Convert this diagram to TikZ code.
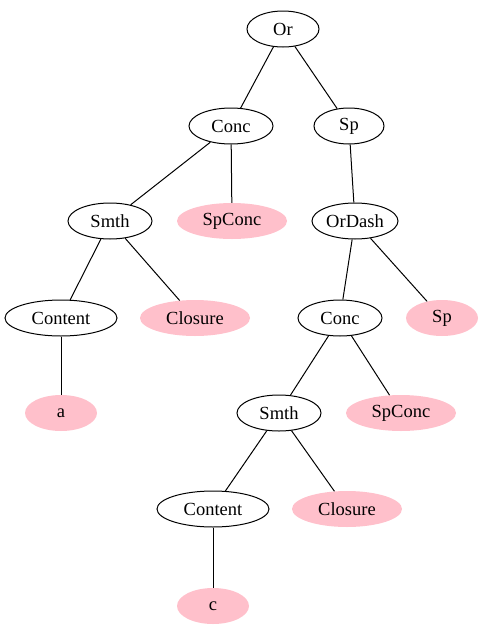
\documentclass[tikz,border=0pt]{standalone}
\usepackage{fontspec}
\setmainfont{Liberation Serif}
\usetikzlibrary{shapes.geometric}
\definecolor{gvpink}{HTML}{FFC0CB}
\tikzset{
  tn/.style={ellipse, draw=black, line width=1pt, inner sep=0pt, minimum height=36pt, font=\fontsize{18.5}{20}\selectfont},
  pk/.style={ellipse, fill=gvpink, draw=none, inner sep=0pt, minimum height=36pt, font=\fontsize{18.5}{20}\selectfont},
  ed/.style={line width=1pt, black}
}
\begin{document}
\begin{tikzpicture}[x=1pt,y=-1pt]
\useasboundingbox (0,0) rectangle (484,635);
\node[tn, minimum width=72pt] (or) at (283,29) {Or};
\node[tn, minimum width=84pt] (conc1) at (231,126) {Conc};
\node[tn, minimum width=70pt] (sp1) at (349,126) {Sp};
\node[tn, minimum width=84pt] (smth1) at (110,221) {Smth};
\node[pk, minimum width=110pt] (spconc1) at (232,221) {SpConc};
\node[tn, minimum width=86pt] (ordash) at (355,221) {OrDash};
\node[tn, minimum width=112pt] (content1) at (61,318) {Content};
\node[pk, minimum width=110pt] (closure1) at (195,318) {Closure};
\node[tn, minimum width=84pt] (conc2) at (340,318) {Conc};
\node[pk, minimum width=72pt] (sp2) at (442,318) {Sp};
\node[pk, minimum width=72pt] (a) at (61,413) {a};
\node[tn, minimum width=84pt] (smth2) at (279,413) {Smth};
\node[pk, minimum width=110pt] (spconc2) at (401,413) {SpConc};
\node[tn, minimum width=112pt] (content2) at (213,509) {Content};
\node[pk, minimum width=110pt] (closure2) at (347,509) {Closure};
\node[pk, minimum width=72pt] (c) at (213,606) {c};
\draw[ed] (or) -- (conc1);
\draw[ed] (or) -- (sp1);
\draw[ed] (conc1) -- (smth1);
\draw[ed] (conc1) -- (spconc1);
\draw[ed] (sp1) -- (ordash);
\draw[ed] (smth1) -- (content1);
\draw[ed] (smth1) -- (closure1);
\draw[ed] (ordash) -- (conc2);
\draw[ed] (ordash) -- (sp2);
\draw[ed] (content1) -- (a);
\draw[ed] (conc2) -- (smth2);
\draw[ed] (conc2) -- (spconc2);
\draw[ed] (smth2) -- (content2);
\draw[ed] (smth2) -- (closure2);
\draw[ed] (content2) -- (c);
\end{tikzpicture}
\end{document}
